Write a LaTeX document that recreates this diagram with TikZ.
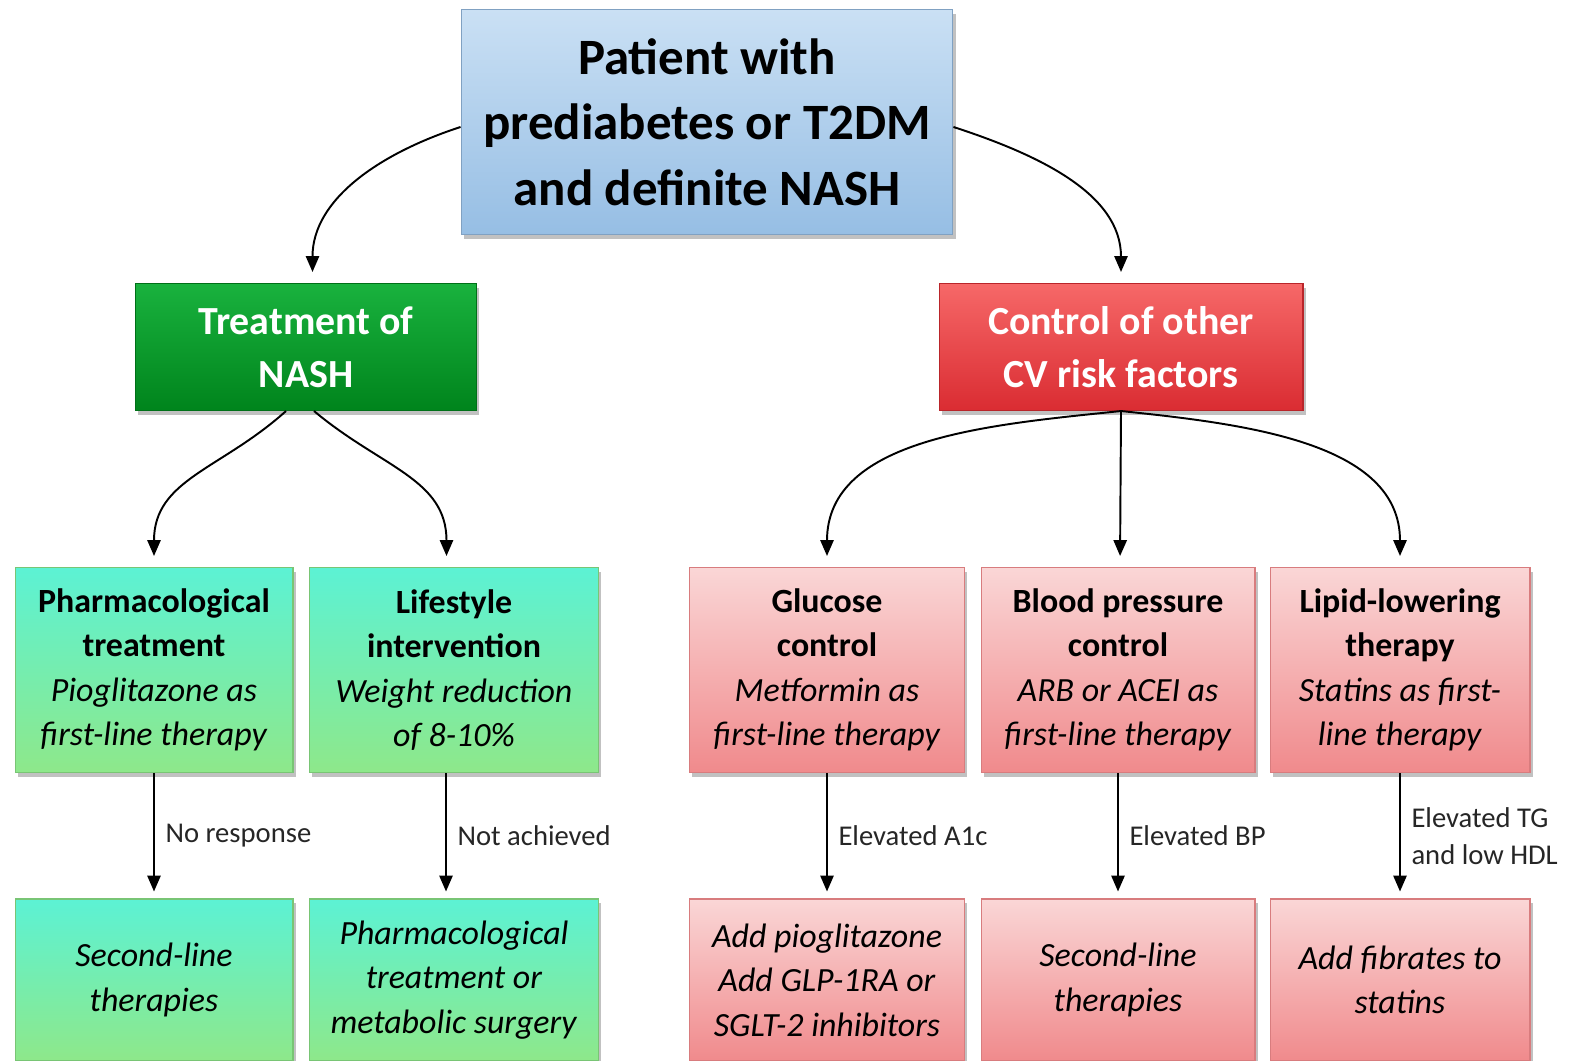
\documentclass[tikz,border=0pt]{standalone}
\usepackage{fontspec}
\setmainfont{Carlito}
\usetikzlibrary{shadows,arrows.meta}

\definecolor{blueTop}{RGB}{202,224,244}
\definecolor{blueBot}{RGB}{150,190,228}
\definecolor{nashTop}{RGB}{25,178,62}
\definecolor{nashBot}{RGB}{0,132,28}
\definecolor{cvTop}{RGB}{246,104,104}
\definecolor{cvBot}{RGB}{218,44,50}
\definecolor{aquaTop}{RGB}{92,242,212}
\definecolor{aquaBot}{RGB}{142,232,138}
\definecolor{pinkTop}{RGB}{250,214,214}
\definecolor{pinkBot}{RGB}{240,138,140}

\begin{document}
\begin{tikzpicture}[
    x=0.02cm, y=-0.02cm,
    box/.style={
      rectangle,
      align=center,
      inner sep=2pt,
      line width=0.6pt,
      drop shadow={shadow xshift=1.5pt, shadow yshift=-2.5pt, opacity=0.35, fill=black!70}
      },
    patientbox/.style={
      box,
      top color=blueTop, bottom color=blueBot, draw=blueBot!85!black,
      minimum width=9.84cm, minimum height=4.5cm,
      font=\fontsize{29}{37.4}\selectfont\bfseries
      },
    headbox/.style={
      box,
      text=white,
      minimum height=2.54cm,
      font=\fontsize{22.7}{30}\selectfont\bfseries
      },
    aquabox/.style={
      box,
      top color=aquaTop, bottom color=aquaBot, draw=aquaBot!85!black,
      font=\fontsize{19.3}{25.3}\selectfont
      },
    pinkbox/.style={
      box,
      top color=pinkTop, bottom color=pinkBot, draw=pinkBot!90!black,
      font=\fontsize{19.3}{25.3}\selectfont
      },
    cond/.style={
      midway,
      right,
      inner xsep=6pt,
      align=left,
      text=black!85,
      font=\fontsize{16.3}{21}\selectfont
      },
    >={Triangle[length=9pt,width=7.5pt]}
    ]
    \useasboundingbox (0,0) rectangle (1576,1061);

    \node[patientbox] (patient) at (707,122) {Patient with\\prediabetes or T2DM\\and definite NASH};

    \node[headbox, top color=nashTop, bottom color=nashBot, draw=nashBot!85!black,
      minimum width=6.82cm] (nash) at (306,347) {Treatment of\\NASH};
    \node[headbox, top color=cvTop, bottom color=cvBot, draw=cvBot!85!black,
      minimum width=7.28cm] (cvrisk) at (1121,347) {Control of other\\CV risk factors};

    % second row
    \node[aquabox, minimum width=5.56cm, minimum height=4.1cm] (pharm) at (154,670)
      {\textbf{Pharmacological}\\\textbf{treatment}\\\textit{Pioglitazone as}\\\textit{first-line therapy}};
    \node[aquabox, minimum width=5.78cm, minimum height=4.1cm] (life) at (454,670)
      {\textbf{Lifestyle}\\\textbf{intervention}\\\textit{Weight reduction}\\\textit{of 8-10\%}};
    \node[pinkbox, minimum width=5.5cm, minimum height=4.1cm] (gluc) at (827,670)
      {\textbf{Glucose}\\\textbf{control}\\\textit{Metformin as}\\\textit{first-line therapy}};
    \node[pinkbox, minimum width=5.48cm, minimum height=4.1cm] (bp) at (1118,670)
      {\textbf{Blood pressure}\\\textbf{control}\\\textit{ARB or ACEI as}\\\textit{first-line therapy}};
    \node[pinkbox, minimum width=5.2cm, minimum height=4.1cm] (lipid) at (1400,670)
      {\textbf{Lipid-lowering}\\\textbf{therapy}\\\textit{Statins as first-}\\\textit{line therapy}};

    % third row
    \node[aquabox, minimum width=5.56cm, minimum height=3.24cm] (pharmB) at (154,980)
      {\textit{Second-line}\\\textit{therapies}};
    \node[aquabox, minimum width=5.78cm, minimum height=3.24cm] (lifeB) at (454,980)
      {\textit{Pharmacological}\\\textit{treatment or}\\\textit{metabolic surgery}};
    \node[pinkbox, minimum width=5.5cm, minimum height=3.24cm] (glucB) at (827,980)
      {\textit{Add pioglitazone}\\\textit{Add GLP-1RA or}\\\textit{SGLT-2 inhibitors}};
    \node[pinkbox, minimum width=5.48cm, minimum height=3.24cm] (bpB) at (1118,980)
      {\textit{Second-line}\\\textit{therapies}};
    \node[pinkbox, minimum width=5.2cm, minimum height=3.24cm] (lipidB) at (1400,980)
      {\textit{Add fibrates to}\\\textit{statins}};

    \begin{scope}[line width=1.1pt, shorten >=0.22cm]
    \draw[->] ([yshift=-0.1cm]patient.west) to[out=198,in=90] ([xshift=0.13cm]nash.north);
    \draw[->] ([yshift=-0.1cm]patient.east) to[out=-18,in=90] (cvrisk.north);
    \draw[->] ([xshift=-0.4cm]nash.south) to[out=222,in=90,looseness=1.1] (pharm.north);
    \draw[->] ([xshift=0.16cm]nash.south) to[out=-40,in=90,looseness=1.1] ([xshift=-0.15cm]life.north);
    \draw[->] (cvrisk.south) to[out=186,in=90] (gluc.north);
    \draw[->] (cvrisk.south) -- ([xshift=0.04cm]bp.north);
    \draw[->] (cvrisk.south) to[out=-6,in=90] (lipid.north);
    \end{scope}

    \begin{scope}[line width=1.1pt, shorten >=0.14cm]
    \draw[->] (pharm.south) -- node[cond] {No response} (pharmB.north);
    \draw[->] ([xshift=-0.16cm]life.south) -- node[cond] {Not achieved} ([xshift=-0.16cm]lifeB.north);
    \draw[->] (gluc.south) -- node[cond] {Elevated A1c} (glucB.north);
    \draw[->] (bp.south) -- node[cond] {Elevated BP} (bpB.north);
    \draw[->] (lipid.south) -- node[cond] {Elevated TG\\and low HDL} (lipidB.north);
    \end{scope}
\end{tikzpicture}
\end{document}
